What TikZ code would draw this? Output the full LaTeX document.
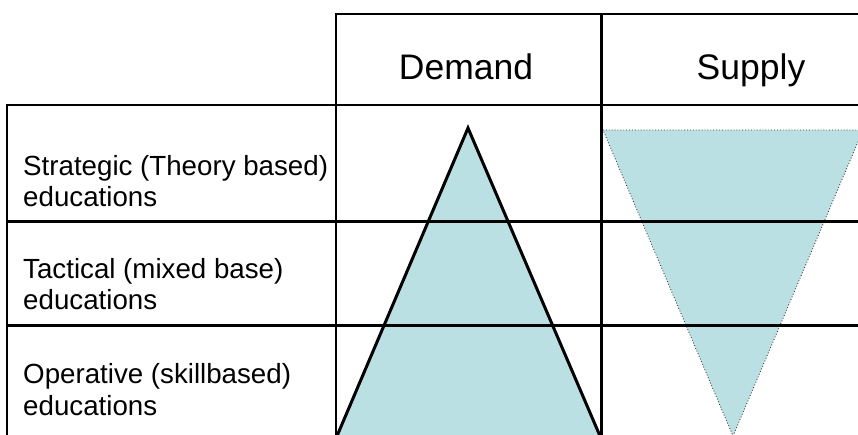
\documentclass[tikz,border=0pt]{standalone}
\usepackage{fontspec}
\setmainfont{Liberation Sans}
\definecolor{triblue}{HTML}{BBE0E3}
\definecolor{dotgray}{HTML}{404040}
\begin{document}
\begin{tikzpicture}[x=1pt,y=-1pt,
  thinline/.style={line width=1.5pt,black},
  thickline/.style={line width=3pt,black},
  headtext/.style={font=\fontsize{35.5}{40}\selectfont,inner sep=0pt,anchor=base},
  rowtext/.style={font=\fontsize{27.7}{31}\selectfont,inner sep=0pt,anchor=base west}]
\useasboundingbox (0,0) rectangle (858,435);
\begin{scope}
\clip (0,0) rectangle (858,435);
% supply triangle
\fill[triblue] (603,130) -- (863,130) -- (733,436) -- cycle;
\draw[dotgray,line width=0.9pt,dotted] (603,130) -- (863,130) -- (733,436) -- cycle;
% demand triangle
\coordinate (dl) at (337,436);
\coordinate (dt) at (468,128);
\coordinate (dr) at (600,436);
\fill[triblue] (dl) -- (dt) -- (dr) -- cycle;
\draw[thickline,line join=miter] (dl) -- (dt) -- (dr);
% grid
\draw[thinline] (336,440) -- (336,14) -- (860,14);
\draw[thinline] (7,440) -- (7,105) -- (860,105);
\draw[thickline] (601.5,14) -- (601.5,440);
\draw[thickline] (7,222) -- (860,222);
\draw[thickline] (7,325) -- (860,325);
\end{scope}
% texts
\node[headtext] (demand) at (466,80) {Demand};
\node[headtext] (supply) at (751,80) {Supply};
\node[rowtext] (s1) at (23,176) {Strategic (Theory based)};
\node[rowtext] (s2) at (23,207) {educations};
\node[rowtext] (t1) at (23,278) {Tactical (mixed base)};
\node[rowtext] (t2) at (23,309) {educations};
\node[rowtext] (o1) at (23,383) {Operative (skillbased)};
\node[rowtext] (o2) at (23,415) {educations};
\end{tikzpicture}
\end{document}
